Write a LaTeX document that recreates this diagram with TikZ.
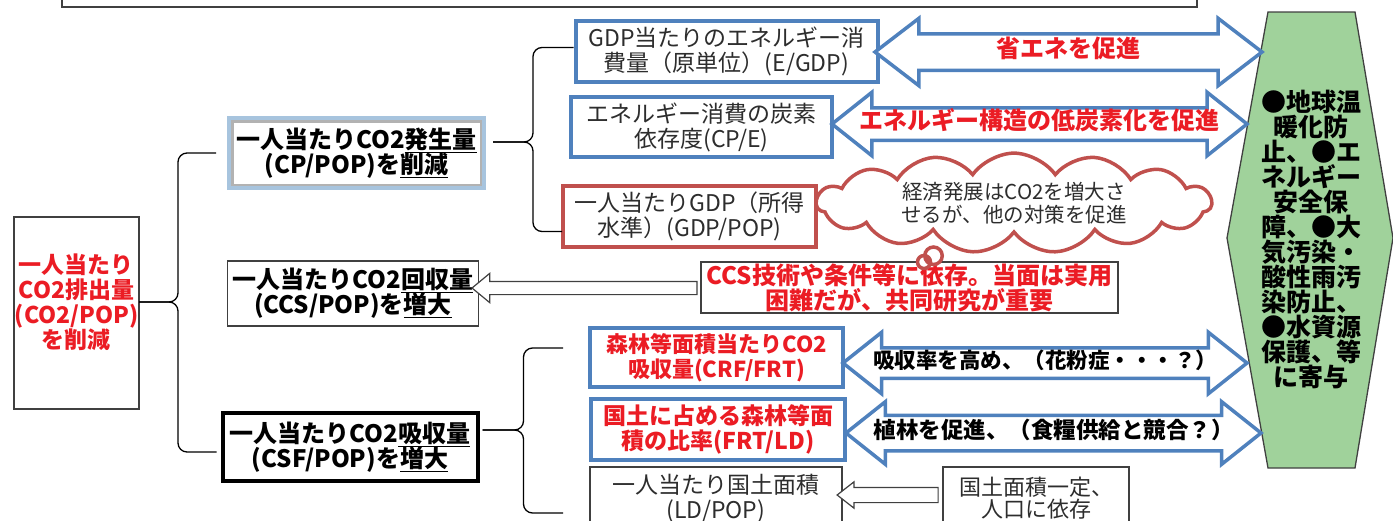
\documentclass[tikz,border=0pt]{standalone}
\usepackage{fontspec}
\setmainfont{Noto Sans CJK JP}
\usetikzlibrary{shapes.arrows, shapes.symbols, shapes.callouts, positioning}
\definecolor{boxblue}{RGB}{79,129,189}
\definecolor{boxred}{RGB}{192,80,77}
\definecolor{paleblue}{RGB}{167,196,222}
\definecolor{txtred}{RGB}{235,28,36}
\definecolor{txtgray}{RGB}{45,45,45}
\definecolor{edgegray}{RGB}{64,64,64}
\definecolor{goalgreen}{RGB}{160,210,155}
\tikzset{%
  % Specifications for style of nodes:
        base/.style = {rectangle, draw=edgegray, line width=1.3pt, fill=white,
                           inner sep=0pt, outer sep=0pt, align=center,
                           text=txtgray, font=\fontsize{23}{25}\selectfont},
        bluebox/.style = {base, draw=boxblue, line width=4pt},
        redbox/.style = {base, draw=boxred, line width=4pt},
        keybox/.style = {base, text=black,
                           font=\bfseries\fontsize{24}{25}\selectfont},
        shadebox/.style = {keybox, draw=paleblue, line width=4pt,
                           path picture={\draw[black!30, line width=9pt]
                             (path picture bounding box.south west) rectangle
                             (path picture bounding box.north east);}},
        heavybox/.style = {keybox, draw=black, line width=4pt},
        redtext/.style = {text=txtred, font=\bfseries\fontsize{23}{25}\selectfont},
        fat/.style = {double arrow, draw=boxblue, line width=3.5pt, fill=white,
                           double arrow tip angle=77, text height=14pt,
                           text depth=4pt, inner xsep=0pt, outer sep=0pt,
                           font=\bfseries\fontsize{24}{25}\selectfont},
        hollow/.style = {single arrow, shape border rotate=180, draw=edgegray,
                           line width=1.2pt, fill=white, inner sep=0pt,
                           outer sep=0pt},
        bracket/.style = {draw=black, line width=1.3pt, rounded corners=9pt},
        hexshape/.style = {draw=edgegray, line width=1.3pt, fill=goalgreen}
}
\newcommand{\goallist}{%
    ●地球温\\暖化防\\止、●エ\\ネルギー\\安全保\\障、●大\\気汚染・\\
    酸性雨汚\\染防止、\\●水資源\\保護、等\\に寄与
}
\newcommand{\thought}{%
    経済発展はCO2を増大さ\\せるが、他の対策を促進
}

\begin{document}
\begin{tikzpicture}[x=1pt, y=-1pt]
  \useasboundingbox (0,0) rectangle (1393,520);
  % goal hexagon on the right
  \draw[hexshape] (1268,12) -- (1355,12) -- (1393,238) -- (1355,468)
        -- (1268,468) -- (1227,238) -- cycle;
  \node (goal) [align=center, font=\bfseries\fontsize{25}{25}\selectfont]
        at (1311,240) {\goallist};

  % Specification of nodes (position, etc.)
  \node (topbox)  [base, minimum width=1135pt, minimum height=60pt] at (629.5,-23) {};
  \node (root)    [base, minimum width=125pt, minimum height=192pt] at (76.5,313) {};
  \node (rootlabel) [redtext, align=center] at (76.5,302)
        {一人当たり\\CO2排出量\\(CO2/POP)\\を削減};

  \node (b1) [shadebox, minimum width=255pt, minimum height=70pt] at (356.5,153)
        {一人当たりCO2\underline{発生量}\\(CP/POP)を\underline{削減}};
  \node (b2) [keybox, minimum width=251pt, minimum height=65pt] at (353,293.5)
        {一人当たりCO2\underline{回収量}\\(CCS/POP)を\underline{増大}};
  \node (b3) [heavybox, minimum width=255pt, minimum height=68pt] at (350,447)
        {一人当たりCO2\underline{吸収量}\\(CSF/POP)を\underline{増大}};

  \node (gdpbox) [bluebox, minimum width=302pt, minimum height=61pt] at (726.5,51.5)
        {GDP当たりのエネルギー消\\費量（原単位）(E/GDP)};
  \node (cpebox) [bluebox, minimum width=261pt, minimum height=60pt] at (701.5,127)
        {エネルギー消費の炭素\\依存度(CP/E)};
  \node (gdppop) [redbox, minimum width=253pt, minimum height=61pt] at (689.5,216.5)
        {一人当たりGDP（所得\\水準）(GDP/POP)};

  \node (forest) [bluebox, redtext, font=\bfseries\fontsize{22}{25}\selectfont,
        minimum width=253pt, minimum height=59pt] at (716.5,357.5)
        {森林等面積当たりCO2\\吸収量(CRF/FRT)};
  \node (share) [bluebox, redtext, minimum width=254pt, minimum height=61pt] at (718,429.5)
        {国土に占める森林等面\\積の比率(FRT/LD)};
  \node (landbox) [base, minimum width=252pt, minimum height=63pt] at (716,498.5)
        {一人当たり国土面積\\(LD/POP)};

  % broad arrows towards the goal
  \node (save) [fat, text=txtred, minimum height=387pt, inner ysep=7.5pt,
        double arrow head extend=15.5pt, double arrow tip angle=75] at (1068.5,52)
        {\makebox[0pt]{省エネを促進}};
  \node (lowcarbon) [fat, text=txtred, minimum height=415pt, inner ysep=5.5pt,
        double arrow head extend=15.5pt] at (1039.5,124)
        {\makebox[0pt]{エネルギー構造の低炭素化を促進}};
  \node (absorb) [fat, text=black, font=\bfseries\fontsize{21.5}{25}\selectfont,
        minimum height=404pt, inner ysep=4.5pt, double arrow head extend=15.5pt]
        at (1045,363) {\makebox[0pt]{吸収率を高め、（花粉症・・・？）}};
  \node (plant) [fat, text=black, font=\bfseries\fontsize{22.5}{25}\selectfont,
        minimum height=415pt, inner ysep=7pt, double arrow head extend=13.5pt]
        at (1053.5,433) {\makebox[0pt]{植林を促進、（食糧供給と競合？）}};

  % hollow arrows with their conditions
  \node (ccsarrow) [hollow, minimum height=225pt, inner ysep=6pt,
        single arrow head extend=8pt, single arrow tip angle=79] at (588.5,288) {};
  \node (ccsbox) [base, redtext, font=\bfseries\fontsize{24}{25}\selectfont,
        minimum width=417pt, minimum height=51pt] at (909.5,287.5)
        {CCS技術や条件等に依存。当面は実用\\困難だが、共同研究が重要};
  \node (landarrow) [hollow, minimum height=101pt, inner ysep=7pt,
        single arrow head extend=5.5pt, single arrow tip angle=76] at (892.5,495) {};
  \node (constbox) [base, font=\fontsize{22}{22}\selectfont,
        minimum width=186pt, minimum height=62pt] at (1036,498)
        {国土面積一定、\\人口に依存};

  \node (cloud) [cloud callout, draw=boxred, line width=3.5pt, fill=white,
        cloud puffs=15, cloud puff arc=110, aspect=6.5,
        minimum width=395pt, minimum height=50pt,
        inner sep=0pt, align=center, text=txtgray,
        font=\fontsize{20.5}{23}\selectfont,
        callout pointer segments=2,
        callout pointer start size=32pt and 22pt,
        callout pointer end size=18pt and 13pt,
        callout absolute pointer={(924,262)}]
        at (1014,203) {\thought};

  % Specification of the braces between nodes specified above
  \coordinate (tip1) at ([yshift=11pt]root.east);
  \draw[bracket] ([xshift=-13pt]b1.west) -| ([xshift=39pt]tip1) -- (tip1);
  \draw[bracket] (tip1) -- ([xshift=39pt]tip1) |- ([xshift=-6pt,yshift=-5pt]b3.west);

  \coordinate (tip2) at ([xshift=9pt,yshift=11pt]b1.east);
  \draw[bracket] ([xshift=-2pt,yshift=4pt]gdpbox.west) -| ([xshift=40pt]tip2) -- (tip2);
  \draw[bracket] (tip2) -- ([xshift=40pt]tip2) |- ([xshift=-1pt,yshift=-15pt]gdppop.west);

  \coordinate (tip3) at ([xshift=5pt,yshift=17pt]b3.east);
  \draw[bracket] ([xshift=-27pt,yshift=9.5pt]forest.west) -| ([xshift=41pt]tip3) -- (tip3);
  \draw[bracket] (tip3) -- ([xshift=41pt]tip3) |- ([xshift=-27pt,yshift=-14.5pt]landbox.west);
\end{tikzpicture}
\end{document}
